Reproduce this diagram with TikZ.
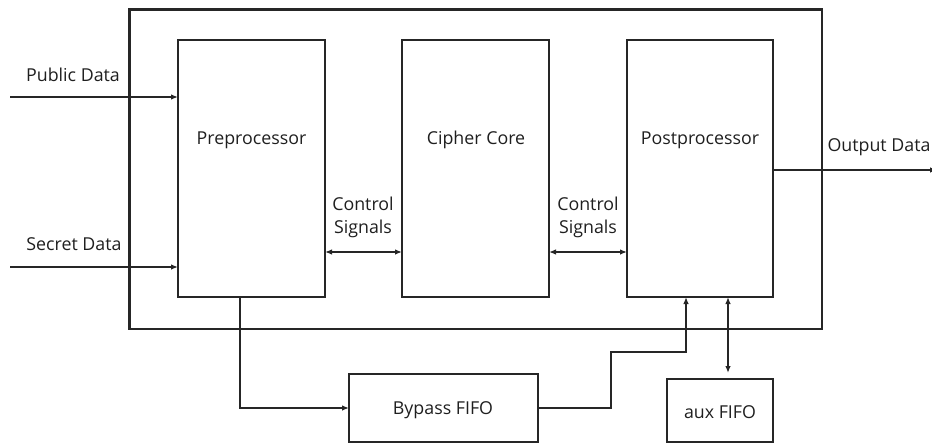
\documentclass[tikz,border=0pt]{standalone}
\usepackage{fontspec}
\setmainfont{Open Sans}
\usetikzlibrary{arrows.meta}
\begin{document}
\begin{tikzpicture}[x=1pt,y=-1pt,
  blk/.style={draw=black!85, line width=2.4pt, inner sep=0pt, outer sep=0pt, anchor=north west},
  con/.style={draw=black!85, line width=1.3pt},
  tip/.style={-{Latex[length=7pt,width=5.5pt]}},
  both/.style={{Latex[length=7pt,width=5.5pt]}-{Latex[length=7pt,width=5.5pt]}},
  lbl/.style={font=\fontsize{17.8}{23}\selectfont, text=black!88, inner sep=0pt, align=center}]
\useasboundingbox (0,0) rectangle (932,444);
% boxes
\node[blk, minimum width=692.5pt, minimum height=319.5pt] (outer) at (129.5,9.5) {};
\node[blk, minimum width=147pt, minimum height=257pt] (pre) at (178,40) {};
\node[blk, minimum width=147pt, minimum height=257pt] (cip) at (402,40) {};
\node[blk, minimum width=146pt, minimum height=257pt] (post) at (627,40) {};
\node[blk, minimum width=189pt, minimum height=68pt] (byp) at (349,374) {};
\node[blk, minimum width=106pt, minimum height=63pt] (aux) at (667,379) {};
% labels
\node[lbl] (tpre) at (251.5,140) {Preprocessor};
\node[lbl] (tcip) at (476,140) {Cipher Core};
\node[lbl] (tpost) at (700,140) {Postprocessor};
\node[lbl] (tbyp) at (443,410) {Bypass FIFO};
\node[lbl] (taux) at (720,412) {aux FIFO};
\node[lbl] (tpub) at (73,75) {Public Data};
\node[lbl] (tsec) at (74,244) {Secret Data};
\node[lbl] (tout) at (879,147) {Output Data};
\node[lbl] (tcs1) at (363,217) {Control\\Signals};
\node[lbl] (tcs2) at (588,217) {Control\\Signals};
% connectors
\coordinate (pin) at (10,97);
\coordinate (sin) at (10,267);
\coordinate (oend) at (937,170);
\coordinate (c1) at (0,252);
\coordinate (bend) at (611,352);
\draw[con,tip] (pin) -- (pre.west |- pin);
\draw[con,tip] (sin) -- (pre.west |- sin);
\draw[con,both] (pre.east |- c1) -- (cip.west |- c1);
\draw[con,both] (cip.east |- c1) -- (post.west |- c1);
\draw[con,tip] (post.east |- oend) -- (oend);
\draw[con,tip] ([xshift=-11.5pt]pre.south) |- (byp.west);
\draw[con,tip] (byp.east) -| (bend) -| ([xshift=-14pt]post.south);
\draw[con,both] ([xshift=28pt]post.south) -- ([xshift=8pt,yshift=6pt]aux.north);
\end{tikzpicture}
\end{document}
